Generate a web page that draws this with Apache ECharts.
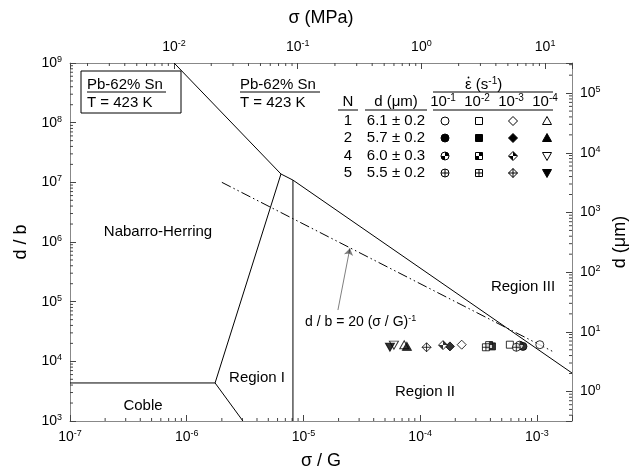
<!DOCTYPE html>
<html>
<head>
<meta charset="utf-8">
<script src="https://cdn.jsdelivr.net/npm/echarts@6/dist/echarts.min.js"></script>
</head>
<body style="margin:0;width:633px;height:471px;background:#fff">
<div id="chart" style="width:633px;height:471px"></div>
<script>
// axis ranges
var X0 = 1e-7, X1 = 2e-3, Y0 = 1e3, Y1 = 1e9;   // sigma/G, d/b
var MPA0 = 1.443e-3, MPA1 = 16.5;               // top axis, sigma (MPa)
var b = 3.2e-4;                                 // burgers vector, um (right axis)

// region boundaries (sigma/G, d/b)
var upperBoundary = [[7.8e-7, 1e9], [6.42e-6, 1.38e7], [8.13e-6, 1.09e7], [2e-3, 6370]];
var region1Left = [[6.42e-6, 1.38e7], [1.75e-6, 4340], [3.03e-6, 1e3]];
var cobleLine = [[1e-7, 4340], [1.75e-6, 4340]];
var verticalLine = [[8.13e-6, 1.09e7], [8.13e-6, 1e3]];
var fitLine = [[2.0e-6, 1.0e7], [1.4e-3, 1.43e4]];
var arrowLine = [[1.975e-5, 7.24e4], [2.5e-5, 7.83e5]];

// experimental points, order of strain rates 1e-1, 1e-2, 1e-3, 1e-4
var groupN = [1, 2, 4, 5];
var groupD = ['6.1 \u00b1 0.2', '5.7 \u00b1 0.2', '6.0 \u00b1 0.3', '5.5 \u00b1 0.2'];
var rateExp = [-1, -2, -3, -4];
var sigmaN1 = [1.06e-3, 5.87e-4, 2.27e-4, 7.3e-5];
var sigmaN2 = [7.6e-4, 4.12e-4, 1.80e-4, 7.7e-5];
var sigmaN4 = [7.1e-4, 3.9e-4, 1.57e-4, 5.96e-5];
var sigmaN5 = [6.67e-4, 3.66e-4, 1.135e-4, 5.51e-5];
var dbN1 = [19000, 19000, 19000, 19000];
var dbN2 = [17800, 17800, 17800, 17800];
var dbN4 = [18700, 18700, 18700, 18700];
var dbN5 = [17200, 17200, 17200, 17200];

var FONT = '"Liberation Sans", Arial, sans-serif';

var SHAPE = {
  circle: 'M0,-10A10,10,0,1,1,0,10A10,10,0,1,1,0,-10Z',
  square: 'M-10,-10L10,-10L10,10L-10,10Z',
  diamond: 'M0,-12L12,0L0,12L-12,0Z',
  triUp: 'M0,-10L11,9L-11,9Z',
  triDown: 'M-11,-9L11,-9L0,10Z'
};
var PLUS = {
  circle: 'M-10,0L10,0M0,-10L0,10',
  square: 'M-10,0L10,0M0,-10L0,10',
  diamond: 'M-12,0L12,0M0,-12L0,12'
};
var HALF = {
  circle: 'M0,0L0,-10A10,10,0,0,1,10,0ZM0,0L0,10A10,10,0,0,1,-10,0Z',
  square: 'M0,0L0,-10L10,-10L10,0ZM0,0L0,10L-10,10L-10,0Z',
  diamond: 'M0,0L0,-12L12,0ZM0,0L0,12L-12,0Z'
};
var SIZE = { circle: [8, 8], square: [7, 7], diamond: [9, 9], triUp: [9, 8], triDown: [9, 8] };

// [shape, style] for each group (row) and strain rate (column)
var symbolSpec = [
  [['circle', 'open'], ['square', 'open'], ['diamond', 'open'], ['triUp', 'open']],
  [['circle', 'filled'], ['square', 'filled'], ['diamond', 'filled'], ['triUp', 'filled']],
  [['circle', 'half'], ['square', 'half'], ['diamond', 'half'], ['triDown', 'open']],
  [['circle', 'plus'], ['square', 'plus'], ['diamond', 'plus'], ['triDown', 'filled']]
];

function pieces(shape, style) {
  // returns list of [pathData, fill, stroke]
  if (style === 'open') return [[SHAPE[shape], '#fff', '#000']];
  if (style === 'filled') return [[SHAPE[shape], '#000', '#000']];
  if (style === 'plus') return [[SHAPE[shape] + PLUS[shape], '#fff', '#000']];
  return [[SHAPE[shape], '#fff', '#000'], [HALF[shape], '#000', null]];
}

var sigmaAll = [sigmaN1, sigmaN2, sigmaN4, sigmaN5];
var dbAll = [dbN1, dbN2, dbN4, dbN5];

var pointSeries = [];
for (var g = 0; g < 4; g++) {
  var layers = [[], []];
  for (var r = 0; r < 4; r++) {
    var sp = symbolSpec[g][r];
    pieces(sp[0], sp[1]).forEach(function (p, k) {
      layers[k].push({
        value: [sigmaAll[g][r], dbAll[g][r]],
        symbol: 'path://' + p[0],
        symbolSize: SIZE[sp[0]],
        itemStyle: { color: p[1], borderColor: p[2] || p[1], borderWidth: p[2] ? 1 : 0 }
      });
    });
  }
  layers.forEach(function (d) {
    if (!d.length) return;
    pointSeries.push({
      type: 'scatter', name: 'N' + groupN[g], data: d, z: 5,
      silent: true, animation: false
    });
  });
}

// minor tick positions (2..9 in each decade)
function minors(lo, hi) {
  var out = [];
  for (var e = Math.floor(Math.log10(lo)); e <= Math.ceil(Math.log10(hi)); e++) {
    for (var k = 2; k <= 9; k++) {
      var v = k * Math.pow(10, e);
      if (v > lo * 1.0001 && v < hi * 0.9999) out.push(v);
    }
  }
  return out;
}

function tickSeries(xi, yi, data, dx, dy) {
  return {
    type: 'custom', xAxisIndex: xi, yAxisIndex: yi, silent: true, animation: false, clip: false,
    data: data,
    renderItem: function (params, api) {
      var p = api.coord([api.value(0), api.value(1)]);
      return { type: 'line', shape: { x1: p[0], y1: p[1], x2: p[0] + dx, y2: p[1] + dy },
        style: { stroke: '#444', lineWidth: 1 } };
    }
  };
}

function lineSeries(data, dash) {
  return {
    type: 'line', data: data, showSymbol: false, symbol: 'none', silent: true, animation: false,
    lineStyle: { color: '#000', width: 1, type: dash || 'solid' }, z: 3
  };
}

function powLabel(v) {
  var e = Math.log10(v);
  var n = Math.round(e);
  if (Math.abs(e - n) > 1e-6) return '';
  return '{b|10}{s|' + n + '}';
}
var labelRich = {
  b: { fontSize: 14, fontFamily: FONT, color: '#000', lineHeight: 16 },
  s: { fontSize: 9, fontFamily: FONT, color: '#000', verticalAlign: 'top', lineHeight: 16 }
};
function logAxis(extra) {
  var a = {
    type: 'log', logBase: 10,
    axisLine: { show: true, lineStyle: { color: '#888', width: 1 } },
    axisTick: { show: true, inside: true, length: 6, lineStyle: { color: '#444' } },
    splitLine: { show: false },
    axisLabel: { formatter: powLabel, rich: labelRich, margin: 8 },
    nameTextStyle: { fontSize: 18, fontFamily: FONT, color: '#000' },
    nameLocation: 'middle'
  };
  for (var k in extra) a[k] = extra[k];
  return a;
}

// graphic annotations
function txt(x, y, text, size, align, rich) {
  return { type: 'text', x: x, y: y, z: 10, silent: true,
    style: { text: text, font: size + 'px ' + FONT, fill: '#000', align: align || 'left',
      verticalAlign: 'middle', rich: rich } };
}
function hline(x1, x2, y) {
  return { type: 'line', z: 10, silent: true, shape: { x1: x1, y1: y, x2: x2, y2: y },
    style: { stroke: '#000', lineWidth: 1 } };
}
var supRich = { s: { fontSize: 9, fontFamily: FONT, verticalAlign: 'top', lineHeight: 16 },
  m: { fontSize: 14, fontFamily: FONT, lineHeight: 16 } };
var supRich15 = { s: { fontSize: 10, fontFamily: FONT, verticalAlign: 'top', lineHeight: 17 },
  m: { fontSize: 15, fontFamily: FONT, lineHeight: 17 } };

// legend symbols drawn from primitives
function symbolGraphic(shape, style, cx, cy) {
  var st = { fill: style === 'filled' ? '#000' : '#fff', stroke: '#000', lineWidth: 1 };
  var blk = { fill: '#000', lineWidth: 0 };
  var ln = { stroke: '#000', lineWidth: 1 };
  var out = [];
  function L(x1, y1, x2, y2) {
    out.push({ type: 'line', z: 10, silent: true, shape: { x1: x1, y1: y1, x2: x2, y2: y2 }, style: ln });
  }
  function P(pts, s) { out.push({ type: 'polygon', z: 10, silent: true, shape: { points: pts }, style: s }); }
  if (shape === 'circle') {
    out.push({ type: 'circle', z: 10, silent: true, shape: { cx: cx, cy: cy, r: 4 }, style: st });
    if (style === 'half') {
      out.push({ type: 'sector', z: 10, silent: true,
        shape: { cx: cx, cy: cy, r0: 0, r: 4, startAngle: -Math.PI / 2, endAngle: 0 }, style: blk });
      out.push({ type: 'sector', z: 10, silent: true,
        shape: { cx: cx, cy: cy, r0: 0, r: 4, startAngle: Math.PI / 2, endAngle: Math.PI }, style: blk });
    }
    if (style === 'plus') { L(cx - 4, cy, cx + 4, cy); L(cx, cy - 4, cx, cy + 4); }
  } else if (shape === 'square') {
    out.push({ type: 'rect', z: 10, silent: true, shape: { x: cx - 3.5, y: cy - 3.5, width: 7, height: 7 }, style: st });
    if (style === 'half') {
      P([[cx, cy], [cx, cy - 3.5], [cx + 3.5, cy - 3.5], [cx + 3.5, cy]], blk);
      P([[cx, cy], [cx, cy + 3.5], [cx - 3.5, cy + 3.5], [cx - 3.5, cy]], blk);
    }
    if (style === 'plus') { L(cx - 3.5, cy, cx + 3.5, cy); L(cx, cy - 3.5, cx, cy + 3.5); }
  } else if (shape === 'diamond') {
    P([[cx, cy - 4.5], [cx + 4.5, cy], [cx, cy + 4.5], [cx - 4.5, cy]], st);
    if (style === 'half') {
      P([[cx, cy], [cx, cy - 4.5], [cx + 4.5, cy]], blk);
      P([[cx, cy], [cx, cy + 4.5], [cx - 4.5, cy]], blk);
    }
    if (style === 'plus') { L(cx - 4.5, cy, cx + 4.5, cy); L(cx, cy - 4.5, cx, cy + 4.5); }
  } else if (shape === 'triUp') {
    P([[cx, cy - 4.5], [cx + 4.5, cy + 3.5], [cx - 4.5, cy + 3.5]], st);
  } else {
    P([[cx - 4.5, cy - 3.5], [cx + 4.5, cy - 3.5], [cx, cy + 4.5]], st);
  }
  return out;
}

var graphics = [
  { type: 'rect', z: 10, silent: true, shape: { x: 81, y: 71, width: 100, height: 42 },
    style: { fill: 'none', stroke: '#000', lineWidth: 1 } },
  txt(87, 85, 'Pb-62% Sn', 15), hline(87, 166, 92), txt(87, 103, 'T = 423 K', 15),
  txt(240, 85, 'Pb-62% Sn', 15), hline(240, 320, 92), txt(240, 103, 'T = 423 K', 15),
  txt(158, 232, 'Nabarro-Herring', 15, 'center'),
  txt(257, 378, 'Region I', 15, 'center'),
  txt(143, 406, 'Coble', 15, 'center'),
  txt(425, 392, 'Region II', 15, 'center'),
  txt(523, 287, 'Region III', 15, 'center'),
  txt(305, 322, '{m|d / b = 20 (\u03c3 / G)}{s|-1}', 14, 'left', supRich),
  txt(465, 85, '{m|\u03b5 (s}{s|-1}{m|)}', 15, 'left', supRich15),
  { type: 'circle', z: 10, silent: true, shape: { cx: 468.5, cy: 77.5, r: 0.9 }, style: { fill: '#000' } },
  hline(433, 553, 92),
  txt(348, 102, 'N', 15, 'center'), hline(338, 358, 110),
  txt(396, 102, 'd (\u03bcm)', 15, 'center'), hline(365, 427, 110),
  hline(433, 553, 110)
];
var colX = [443, 477, 511, 545];
var rowY = [121, 138, 156, 173];
rateExp.forEach(function (e, i) {
  graphics.push(txt(colX[i], 102, '{m|10}{s|' + e + '}', 15, 'center', supRich15));
});
for (var gi = 0; gi < 4; gi++) {
  graphics.push(txt(348, rowY[gi], String(groupN[gi]), 15, 'center'));
  graphics.push(txt(396, rowY[gi], groupD[gi], 15, 'center'));
  for (var ri = 0; ri < 4; ri++) {
    var spc = symbolSpec[gi][ri];
    graphics = graphics.concat(symbolGraphic(spc[0], spc[1], colX[ri] + 2, rowY[gi]));
  }
}

var chart = echarts.init(document.getElementById('chart'), null, { renderer: 'canvas' });
chart.setOption({
  animation: false,
  backgroundColor: '#fff',
  grid: { left: 70, right: 61, top: 63, bottom: 50, containLabel: false, outerBoundsMode: 'none' },
  xAxis: [
    logAxis({ min: X0, max: X1, position: 'bottom', name: '\u03c3 / G', nameGap: 31 }),
    logAxis({ min: MPA0, max: MPA1, position: 'top', name: '\u03c3 (MPa)', nameGap: 36 })
  ],
  yAxis: [
    logAxis({ min: Y0, max: Y1, position: 'left', name: 'd / b', nameGap: 29, nameRotate: 90 }),
    logAxis({ min: Y0 * b, max: Y1 * b, position: 'right', name: 'd (\u03bcm)', nameGap: 37, nameRotate: 90 })
  ],
  series: [
    tickSeries(0, 0, minors(X0, X1).map(function (v) { return [v, Y0]; }), 0, -3),
    tickSeries(1, 0, minors(MPA0, MPA1).map(function (v) { return [v, Y1]; }), 0, 3),
    tickSeries(0, 0, minors(Y0, Y1).map(function (v) { return [X0, v]; }), 3, 0),
    tickSeries(0, 1, minors(Y0 * b, Y1 * b).map(function (v) { return [X1, v]; }), -3, 0),
    lineSeries(upperBoundary),
    lineSeries(region1Left),
    lineSeries(cobleLine),
    lineSeries(verticalLine),
    lineSeries(fitLine, [10, 3, 1.5, 3, 1.5, 3]),
    {
      type: 'lines', coordinateSystem: 'cartesian2d', silent: true, animation: false,
      symbol: ['none', 'arrow'], symbolSize: 7,
      lineStyle: { color: '#000', width: 1 },
      data: [{ coords: arrowLine }]
    }
  ].concat(pointSeries),
  graphic: graphics
});
</script>
</body>
</html>
